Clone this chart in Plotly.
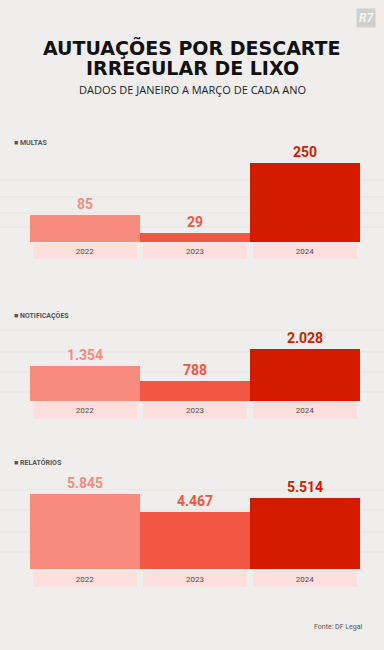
import plotly.graph_objects as go

years = ["2022", "2023", "2024"]
multas = [85, 29, 250]
notificacoes = [1354, 788, 2028]
relatorios = [5845, 4467, 5514]
panel_titles = ["MULTAS", "NOTIFICAÇÕES", "RELATÓRIOS"]
series = [multas, notificacoes, relatorios]

bar_colors = ["#f98b7e", "#f25743", "#d41b00"]
band_color = "#fde0de"
W, H = 384, 650

def py(px):
    return 1 - px / H

def fmt(v):
    return f"{v:,}".replace(",", ".")

# pixel layout: (bar top of domain, bar bottom, band top, band bottom, label y)
panels = [
    (150, 242, 243, 259, 143),
    (325, 401, 402, 419, 315),
    (472, 569, 571, 587, 462),
]
# pixel height of tallest bar per panel
max_px = [79, 52, 75]

fig = go.Figure()
layout = {}
annotations = []
xd = [30 / W, 360 / W]
for i, (vals, (dt, db, bt, bb, ly)) in enumerate(zip(series, panels)):
    n = 2 * i + 1
    ya = f"y{n}" if n > 1 else "y"
    yb = f"y{n+1}"
    xa = f"x{n}" if n > 1 else "x"
    xb = f"x{n+1}"
    fig.add_trace(go.Bar(
        x=years, y=vals, xaxis=xa, yaxis=ya,
        marker=dict(color=bar_colors, line=dict(width=0)),
        text=[fmt(v) for v in vals], textposition="outside",
        textfont=dict(family="Roboto", size=14, color=bar_colors, weight="bold"),
        cliponaxis=False, hoverinfo="skip", showlegend=False,
    ))
    fig.add_trace(go.Bar(
        x=years, y=[1, 1, 1], xaxis=xb, yaxis=yb, width=0.95,
        marker=dict(color=band_color, line=dict(width=0)),
        text=years, textposition="inside", insidetextanchor="middle",
        textfont=dict(family="Roboto", size=8, color="#5a4a4a"),
        hoverinfo="skip", showlegend=False,
    ))
    top = max(vals) * (db - dt) / max_px[i]
    kx = "xaxis" if n == 1 else f"xaxis{n}"
    layout[kx] = dict(domain=xd, range=[-0.5, 2.5], visible=False, anchor=ya)
    layout[f"xaxis{n+1}"] = dict(domain=xd, range=[-0.5, 2.5], visible=False, anchor=yb)
    ky = "yaxis" if n == 1 else f"yaxis{n}"
    layout[ky] = dict(domain=[py(db), py(dt)], range=[0, top], visible=False, anchor=xa)
    layout[f"yaxis{n+1}"] = dict(domain=[py(bb), py(bt)], range=[0, 1], visible=False, anchor=xb)
    annotations.append(dict(
        x=12 / W, y=py(ly), xref="paper", yref="paper", xanchor="left", yanchor="middle",
        text="■ " + panel_titles[i], showarrow=False,
        font=dict(family="Roboto", size=7, color="#555555", weight="bold"),
    ))

title_lines = ["AUTUAÇÕES POR DESCARTE", "IRREGULAR DE LIXO"]
for t, anchor in zip(title_lines, ["bottom", "top"]):
    annotations.append(dict(
        x=0.5, y=py(59), xref="paper", yref="paper", xanchor="center", yanchor=anchor,
        text=t, showarrow=False, borderpad=0, yshift=-1 if anchor == "bottom" else 3,
        font=dict(family="DejaVu Sans", size=19, color="#111111", weight="bold")))

annotations += [
    dict(x=0.5, y=py(90), xref="paper", yref="paper", xanchor="center", yanchor="middle",
         text="DADOS DE JANEIRO A MARÇO DE CADA ANO", showarrow=False,
         font=dict(family="Open Sans", size=11, color="#222222")),
    dict(x=365 / W, y=py(627), xref="paper", yref="paper", xanchor="right", yanchor="middle",
         text="Fonte: DF Legal", showarrow=False,
         font=dict(family="Roboto", size=7, color="#555555")),
    dict(x=366 / W, y=py(18), xref="paper", yref="paper", xanchor="center", yanchor="middle",
         text="<b><i>R7</i></b>", showarrow=False, bgcolor="#cfcfcf", borderpad=2,
         font=dict(family="Roboto", size=12, color="#f4f4f4")),
]

shapes = []
for yy in [180, 197, 213, 227, 330, 352, 372, 392, 490, 510, 532, 552]:
    shapes.append(dict(type="line", xref="paper", yref="paper", x0=0, x1=1,
                       y0=py(yy), y1=py(yy), line=dict(color="rgba(0,0,0,0.035)", width=1),
                       layer="below"))

fig.update_layout(
    width=W, height=H, margin=dict(l=0, r=0, t=0, b=0),
    paper_bgcolor="#efeeed", plot_bgcolor="rgba(0,0,0,0)",
    bargap=0, annotations=annotations, shapes=shapes, **layout,
)
fig.write_html("out.html", config={"displayModeBar": False},
               post_script="document.body.style.margin='0';document.body.style.overflow='hidden';")
